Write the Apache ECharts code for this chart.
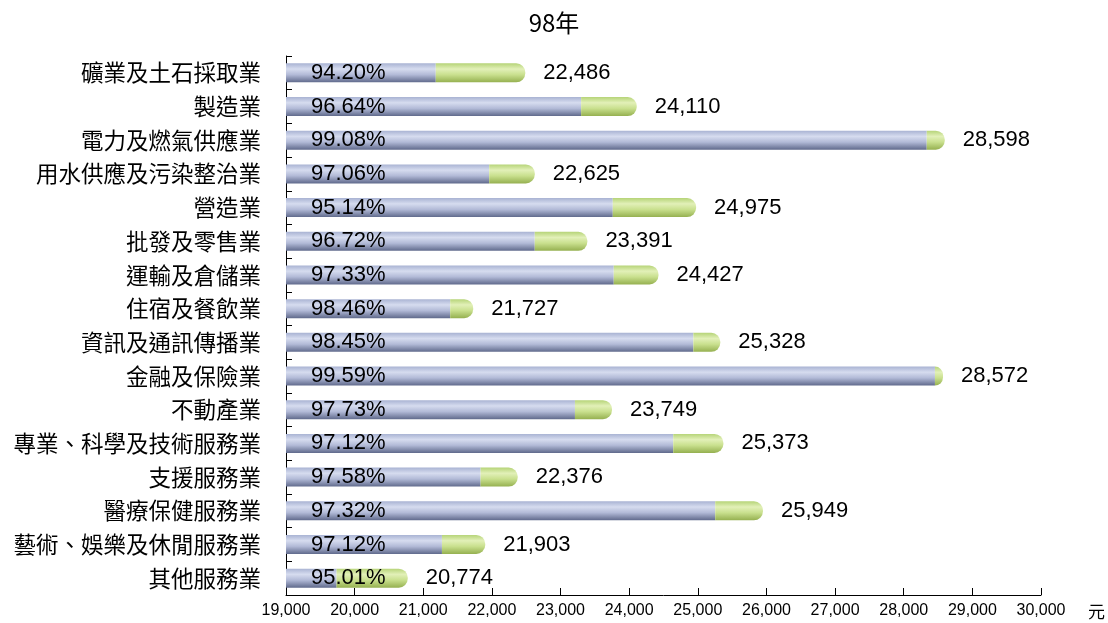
<!DOCTYPE html>
<html>
<head>
<meta charset="utf-8">
<script src="https://cdn.jsdelivr.net/npm/echarts@6/dist/echarts.min.js"></script>
<style>
  html, body { margin: 0; padding: 0; background: #fff; }
  #main { width: 1108px; height: 623px; }
</style>
</head>
<body>
<div id="main"></div>
<script>
// 行業別
var industries = ['礦業及土石採取業', '製造業', '電力及燃氣供應業', '用水供應及污染整治業', '營造業',
  '批發及零售業', '運輸及倉儲業', '住宿及餐飲業', '資訊及通訊傳播業', '金融及保險業', '不動產業',
  '專業、科學及技術服務業', '支援服務業', '醫療保健服務業', '藝術、娛樂及休閒服務業', '其他服務業'];
// 金額 (元)
var amounts = [22486, 24110, 28598, 22625, 24975, 23391, 24427, 21727, 25328, 28572, 23749, 25373, 22376, 25949, 21903, 20774];
// 百分比
var ratios = [94.20, 96.64, 99.08, 97.06, 95.14, 96.72, 97.33, 98.46, 98.45, 99.59, 97.73, 97.12, 97.58, 97.32, 97.12, 95.01];

var basePart = [];
var restPart = [];
for (var i = 0; i < amounts.length; i++) {
  var b = Math.round(amounts[i] * ratios[i] / 100);
  basePart.push(b);
  restPart.push(amounts[i] - b);
}

var numFont = '"Liberation Sans", Arial, sans-serif';
var cjkFont = '"Noto Sans CJK TC", sans-serif';

var myChart = echarts.init(document.getElementById('main'));

var option = {
  backgroundColor: '#fff',
  animation: false,
  title: {
    text: '98年',
    left: 'center',
    top: 6,
    textStyle: { fontFamily: cjkFont, fontSize: 24, fontWeight: 'normal', color: '#000' }
  },
  grid: { left: 286, right: 65, top: 56, bottom: 28, containLabel: false },
  xAxis: {
    type: 'value',
    min: 19000,
    max: 30000,
    interval: 1000,
    name: '元',
    nameLocation: 'end',
    nameGap: 47,
    nameTextStyle: { fontFamily: cjkFont, fontSize: 17, color: '#000', verticalAlign: 'top', padding: [8, 0, 0, 0] },
    axisLine: { show: true, lineStyle: { color: '#000', width: 1 } },
    axisTick: { show: true, inside: true, length: 7, lineStyle: { color: '#000' } },
    splitLine: { show: false },
    axisLabel: {
      fontFamily: numFont, fontSize: 16, color: '#000', margin: 8,
      formatter: function (v) { return v.toLocaleString('en-US'); }
    }
  },
  yAxis: {
    type: 'category',
    inverse: true,
    data: industries,
    axisLine: { show: true, lineStyle: { color: '#000', width: 1 } },
    axisTick: { show: true, inside: true, length: 6, lineStyle: { color: '#000' } },
    axisLabel: { fontFamily: cjkFont, fontSize: 22.5, color: '#000', margin: 25 }
  },
  series: [{
    name: 'base',
    type: 'bar',
    stack: 'total',
    barWidth: 19,
    data: basePart,
    itemStyle: {
      color: new echarts.graphic.LinearGradient(0, 0, 0, 1, [
        { offset: 0, color: '#a9b3d3' },
        { offset: 0.3, color: '#d6dcef' },
        { offset: 0.6, color: '#b2bad7' },
        { offset: 1, color: '#606a8c' }
      ])
    },
    label: {
      show: true,
      position: 'insideLeft',
      distance: 25,
      fontFamily: numFont,
      fontSize: 22,
      color: '#000',
      formatter: function (p) { return ratios[p.dataIndex].toFixed(2) + '%'; }
    }
  }, {
    name: 'rest',
    type: 'bar',
    stack: 'total',
    barWidth: 19,
    data: restPart,
    itemStyle: {
      borderRadius: [0, 9, 9, 0],
      color: new echarts.graphic.LinearGradient(0, 0, 0, 1, [
        { offset: 0, color: '#b6d478' },
        { offset: 0.3, color: '#e2f0b8' },
        { offset: 0.6, color: '#c9e08e' },
        { offset: 1, color: '#95b050' }
      ])
    },
    label: {
      show: true,
      position: 'right',
      distance: 18,
      fontFamily: numFont,
      fontSize: 22,
      color: '#000',
      formatter: function (p) { return amounts[p.dataIndex].toLocaleString('en-US'); }
    }
  }]
};

myChart.setOption(option);
</script>
</body>
</html>
